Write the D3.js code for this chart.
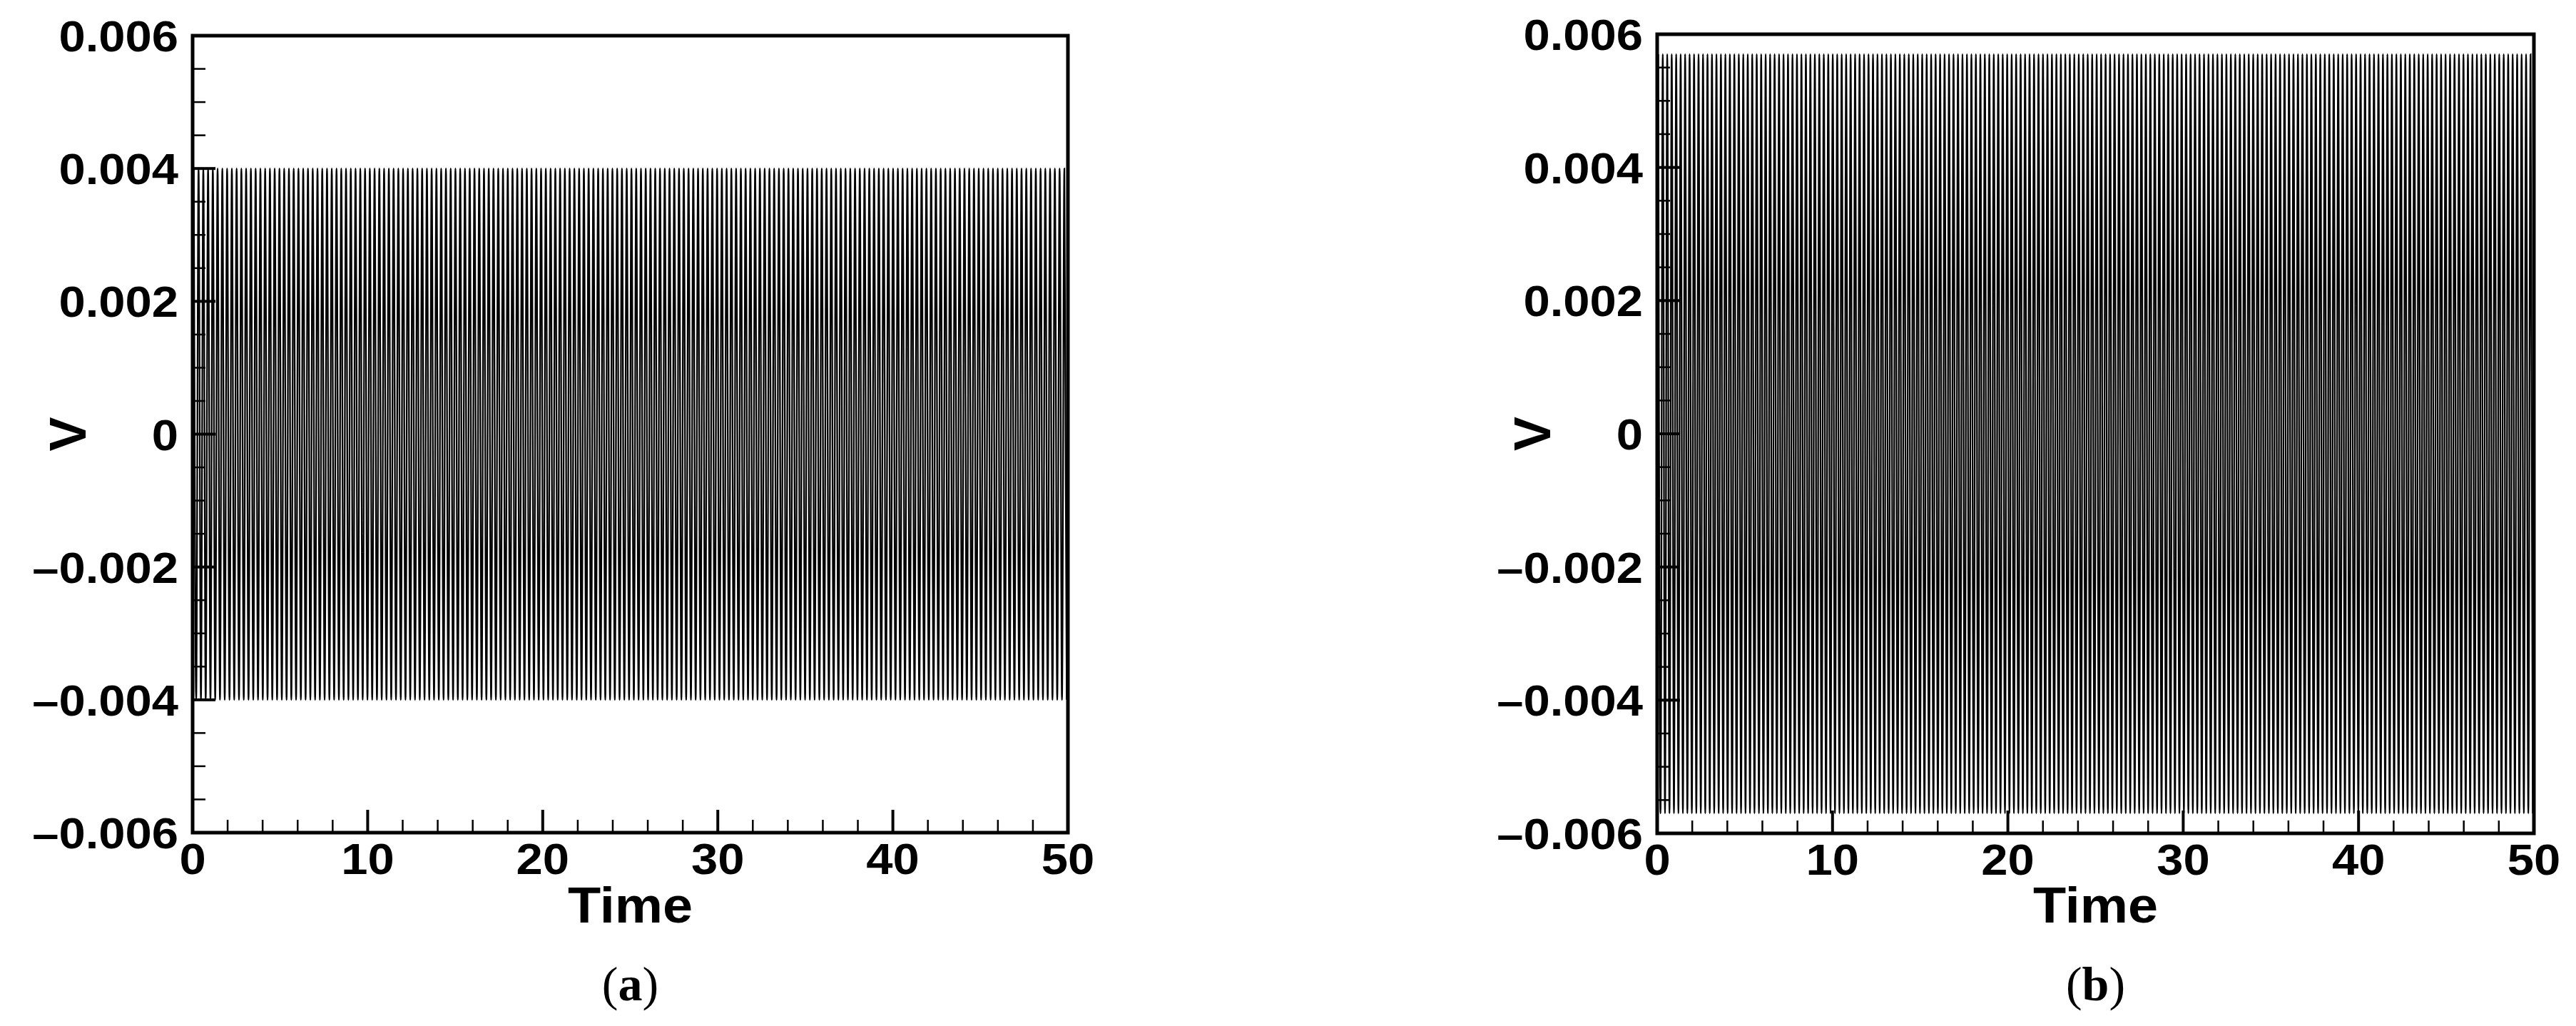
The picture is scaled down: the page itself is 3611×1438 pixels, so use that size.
<!DOCTYPE html>
<html>
<head>
<meta charset="utf-8">
<script src="https://cdn.jsdelivr.net/npm/d3@7"></script>
<style>
  html, body { margin: 0; padding: 0; background: #ffffff; }
  svg { display: block; }
</style>
</head>
<body>
<svg id="chart" width="3611" height="1438"></svg>
<script>
// ---------------- data ----------------
const yMajorTicks = [-0.006, -0.004, -0.002, 0, 0.002, 0.004, 0.006];
const yTickLabels = ["\u20130.006", "\u20130.004", "\u20130.002", "0", "0.002", "0.004", "0.006"];
const xMajorTicks = [0, 10, 20, 30, 40, 50];
const xTickLabels = ["0", "10", "20", "30", "40", "50"];
const xTitle = "Time";
const yTitle = "V";
const panelLetters = ["a", "b"];

// panel (a): per-cycle peak (max) and trough (min) values of V
const peaksA = [
  0.004, 0.004, 0.004, 0.004, 0.004, 0.004, 0.004, 0.004,
  0.004, 0.004, 0.004, 0.004, 0.004, 0.004, 0.004, 0.004,
  0.004, 0.004, 0.004, 0.004, 0.004, 0.004, 0.004, 0.004,
  0.004, 0.004, 0.004, 0.004, 0.004, 0.004, 0.004, 0.004,
  0.004, 0.004, 0.004, 0.004, 0.004, 0.004, 0.004, 0.004,
  0.004, 0.004, 0.004, 0.004, 0.004, 0.004, 0.004, 0.004,
  0.004, 0.004, 0.004, 0.004, 0.004, 0.004, 0.004, 0.004,
  0.004, 0.004, 0.004, 0.004, 0.004, 0.004, 0.004, 0.004,
  0.004, 0.004, 0.004, 0.004, 0.004, 0.004, 0.004, 0.004,
  0.004, 0.004, 0.004, 0.004, 0.004, 0.004, 0.004, 0.004,
  0.004, 0.004, 0.004, 0.004, 0.004, 0.004, 0.004, 0.004,
  0.004, 0.004, 0.004, 0.004, 0.004, 0.004, 0.004, 0.004,
  0.004, 0.004, 0.004, 0.004, 0.004, 0.004, 0.004, 0.004,
  0.004, 0.004, 0.004, 0.004, 0.004, 0.004, 0.004, 0.004,
  0.004, 0.004, 0.004, 0.004, 0.004, 0.004, 0.004, 0.004,
  0.004, 0.004, 0.004, 0.004, 0.004, 0.004, 0.004, 0.004,
  0.004, 0.004, 0.004, 0.004, 0.004, 0.004, 0.004, 0.004,
  0.004, 0.004, 0.004, 0.004, 0.004, 0.004, 0.004, 0.004,
  0.004, 0.004, 0.004, 0.004, 0.004, 0.004, 0.004, 0.004,
  0.004, 0.004, 0.004, 0.004, 0.004, 0.004, 0.004, 0.004,
  0.004, 0.004, 0.004, 0.004, 0.004, 0.004, 0.004, 0.004,
  0.004, 0.004, 0.004, 0.004, 0.004, 0.004, 0.004, 0.004,
  0.004, 0.004, 0.004, 0.004, 0.004, 0.004, 0.004, 0.004
];
const troughsA = [
  -0.004, -0.004, -0.004, -0.004, -0.004, -0.004, -0.004, -0.004,
  -0.004, -0.004, -0.004, -0.004, -0.004, -0.004, -0.004, -0.004,
  -0.004, -0.004, -0.004, -0.004, -0.004, -0.004, -0.004, -0.004,
  -0.004, -0.004, -0.004, -0.004, -0.004, -0.004, -0.004, -0.004,
  -0.004, -0.004, -0.004, -0.004, -0.004, -0.004, -0.004, -0.004,
  -0.004, -0.004, -0.004, -0.004, -0.004, -0.004, -0.004, -0.004,
  -0.004, -0.004, -0.004, -0.004, -0.004, -0.004, -0.004, -0.004,
  -0.004, -0.004, -0.004, -0.004, -0.004, -0.004, -0.004, -0.004,
  -0.004, -0.004, -0.004, -0.004, -0.004, -0.004, -0.004, -0.004,
  -0.004, -0.004, -0.004, -0.004, -0.004, -0.004, -0.004, -0.004,
  -0.004, -0.004, -0.004, -0.004, -0.004, -0.004, -0.004, -0.004,
  -0.004, -0.004, -0.004, -0.004, -0.004, -0.004, -0.004, -0.004,
  -0.004, -0.004, -0.004, -0.004, -0.004, -0.004, -0.004, -0.004,
  -0.004, -0.004, -0.004, -0.004, -0.004, -0.004, -0.004, -0.004,
  -0.004, -0.004, -0.004, -0.004, -0.004, -0.004, -0.004, -0.004,
  -0.004, -0.004, -0.004, -0.004, -0.004, -0.004, -0.004, -0.004,
  -0.004, -0.004, -0.004, -0.004, -0.004, -0.004, -0.004, -0.004,
  -0.004, -0.004, -0.004, -0.004, -0.004, -0.004, -0.004, -0.004,
  -0.004, -0.004, -0.004, -0.004, -0.004, -0.004, -0.004, -0.004,
  -0.004, -0.004, -0.004, -0.004, -0.004, -0.004, -0.004, -0.004,
  -0.004, -0.004, -0.004, -0.004, -0.004, -0.004, -0.004, -0.004,
  -0.004, -0.004, -0.004, -0.004, -0.004, -0.004, -0.004, -0.004,
  -0.004, -0.004, -0.004, -0.004, -0.004, -0.004, -0.004, -0.004
];

// panel (b): per-cycle peak (max) and trough (min) values of V
const peaksB = [
  0.0057, 0.0057, 0.0057, 0.0057, 0.0057, 0.0057, 0.0057, 0.0057,
  0.0057, 0.0057, 0.0057, 0.0057, 0.0057, 0.0057, 0.0057, 0.0057,
  0.0057, 0.0057, 0.0057, 0.0057, 0.0057, 0.0057, 0.0057, 0.0057,
  0.0057, 0.0057, 0.0057, 0.0057, 0.0057, 0.0057, 0.0057, 0.0057,
  0.0057, 0.0057, 0.0057, 0.0057, 0.0057, 0.0057, 0.0057, 0.0057,
  0.0057, 0.0057, 0.0057, 0.0057, 0.0057, 0.0057, 0.0057, 0.0057,
  0.0057, 0.0057, 0.0057, 0.0057, 0.0057, 0.0057, 0.0057, 0.0057,
  0.0057, 0.0057, 0.0057, 0.0057, 0.0057, 0.0057, 0.0057, 0.0057,
  0.0057, 0.0057, 0.0057, 0.0057, 0.0057, 0.0057, 0.0057, 0.0057,
  0.0057, 0.0057, 0.0057, 0.0057, 0.0057, 0.0057, 0.0057, 0.0057,
  0.0057, 0.0057, 0.0057, 0.0057, 0.0057, 0.0057, 0.0057, 0.0057,
  0.0057, 0.0057, 0.0057, 0.0057, 0.0057, 0.0057, 0.0057, 0.0057,
  0.0057, 0.0057, 0.0057, 0.0057, 0.0057, 0.0057, 0.0057, 0.0057,
  0.0057, 0.0057, 0.0057, 0.0057, 0.0057, 0.0057, 0.0057, 0.0057,
  0.0057, 0.0057, 0.0057, 0.0057, 0.0057, 0.0057, 0.0057, 0.0057,
  0.0057, 0.0057, 0.0057, 0.0057, 0.0057, 0.0057, 0.0057, 0.0057,
  0.0057, 0.0057, 0.0057, 0.0057, 0.0057, 0.0057, 0.0057, 0.0057,
  0.0057, 0.0057, 0.0057, 0.0057, 0.0057, 0.0057, 0.0057, 0.0057,
  0.0057, 0.0057, 0.0057, 0.0057, 0.0057, 0.0057, 0.0057, 0.0057,
  0.0057, 0.0057, 0.0057, 0.0057, 0.0057, 0.0057, 0.0057, 0.0057,
  0.0057, 0.0057, 0.0057, 0.0057, 0.0057, 0.0057, 0.0057, 0.0057,
  0.0057, 0.0057, 0.0057, 0.0057, 0.0057, 0.0057, 0.0057, 0.0057,
  0.0057, 0.0057, 0.0057, 0.0057, 0.0057, 0.0057, 0.0057, 0.0057,
  0.0057, 0.0057, 0.0057, 0.0057, 0.0057, 0.0057, 0.0057, 0.0057,
  0.0057, 0.0057, 0.0057, 0.0057
];
const troughsB = [
  -0.0057, -0.0057, -0.0057, -0.0057, -0.0057, -0.0057, -0.0057, -0.0057,
  -0.0057, -0.0057, -0.0057, -0.0057, -0.0057, -0.0057, -0.0057, -0.0057,
  -0.0057, -0.0057, -0.0057, -0.0057, -0.0057, -0.0057, -0.0057, -0.0057,
  -0.0057, -0.0057, -0.0057, -0.0057, -0.0057, -0.0057, -0.0057, -0.0057,
  -0.0057, -0.0057, -0.0057, -0.0057, -0.0057, -0.0057, -0.0057, -0.0057,
  -0.0057, -0.0057, -0.0057, -0.0057, -0.0057, -0.0057, -0.0057, -0.0057,
  -0.0057, -0.0057, -0.0057, -0.0057, -0.0057, -0.0057, -0.0057, -0.0057,
  -0.0057, -0.0057, -0.0057, -0.0057, -0.0057, -0.0057, -0.0057, -0.0057,
  -0.0057, -0.0057, -0.0057, -0.0057, -0.0057, -0.0057, -0.0057, -0.0057,
  -0.0057, -0.0057, -0.0057, -0.0057, -0.0057, -0.0057, -0.0057, -0.0057,
  -0.0057, -0.0057, -0.0057, -0.0057, -0.0057, -0.0057, -0.0057, -0.0057,
  -0.0057, -0.0057, -0.0057, -0.0057, -0.0057, -0.0057, -0.0057, -0.0057,
  -0.0057, -0.0057, -0.0057, -0.0057, -0.0057, -0.0057, -0.0057, -0.0057,
  -0.0057, -0.0057, -0.0057, -0.0057, -0.0057, -0.0057, -0.0057, -0.0057,
  -0.0057, -0.0057, -0.0057, -0.0057, -0.0057, -0.0057, -0.0057, -0.0057,
  -0.0057, -0.0057, -0.0057, -0.0057, -0.0057, -0.0057, -0.0057, -0.0057,
  -0.0057, -0.0057, -0.0057, -0.0057, -0.0057, -0.0057, -0.0057, -0.0057,
  -0.0057, -0.0057, -0.0057, -0.0057, -0.0057, -0.0057, -0.0057, -0.0057,
  -0.0057, -0.0057, -0.0057, -0.0057, -0.0057, -0.0057, -0.0057, -0.0057,
  -0.0057, -0.0057, -0.0057, -0.0057, -0.0057, -0.0057, -0.0057, -0.0057,
  -0.0057, -0.0057, -0.0057, -0.0057, -0.0057, -0.0057, -0.0057, -0.0057,
  -0.0057, -0.0057, -0.0057, -0.0057, -0.0057, -0.0057, -0.0057, -0.0057,
  -0.0057, -0.0057, -0.0057, -0.0057, -0.0057, -0.0057, -0.0057, -0.0057,
  -0.0057, -0.0057, -0.0057, -0.0057, -0.0057, -0.0057, -0.0057, -0.0057,
  -0.0057, -0.0057, -0.0057, -0.0057
];
const timeDomain = [0, 50];
const vDomain = [-0.006, 0.006];

// ---------------- layout ----------------
const panels = [
  { letter: panelLetters[0], peaks: peaksA, troughs: troughsA, left: 270, right: 1497, top: 50, bottom: 1167 },
  { letter: panelLetters[1], peaks: peaksB, troughs: troughsB, left: 2323, right: 3552, top: 48, bottom: 1168 }
];

const svg = d3.select("#chart");
svg.append("rect").attr("width", 3611).attr("height", 1438).attr("fill", "#fff");

const SANS = "'Liberation Sans', Arial, Helvetica, sans-serif";
const SERIF = "'Liberation Serif', 'Times New Roman', serif";
const SX = 1.08; // slight horizontal stretch of the original figure text

function sText(g, x, y, txt, size, anchor) {
  return g.append("text")
    .attr("transform", `translate(${x},${y}) scale(${SX},1)`)
    .attr("text-anchor", anchor)
    .attr("font-family", SANS)
    .attr("font-weight", "bold")
    .attr("font-size", size)
    .attr("fill", "#000")
    .text(txt);
}

panels.forEach((p, pi) => {
  const g = svg.append("g");
  const x = d3.scaleLinear().domain(timeDomain).range([p.left, p.right]);
  const y = d3.scaleLinear().domain(vDomain).range([p.bottom, p.top]);

  // interleave extrema into a series
  const series = [];
  p.peaks.forEach((v, i) => {
    series.push(v);
    if (i < p.troughs.length) series.push(p.troughs[i]);
  });
  const idx = d3.scaleLinear().domain([-0.5, series.length - 0.5]).range(timeDomain);

  const clipId = "clip" + pi;
  svg.append("clipPath").attr("id", clipId)
    .append("rect").attr("x", p.left).attr("y", p.top)
    .attr("width", p.right - p.left).attr("height", p.bottom - p.top);

  const line = d3.line()
    .x((d, i) => x(idx(i)))
    .y(d => y(d))
    .curve(d3.curveMonotoneX);

  g.append("path")
    .datum(series)
    .attr("clip-path", `url(#${clipId})`)
    .attr("fill", "none")
    .attr("stroke", "#000")
    .attr("stroke-width", 2.3)
    .attr("d", line);

  // minor ticks
  const yMinor = y.ticks(24).filter(t => !yMajorTicks.some(m => Math.abs(m - t) < 1e-9));
  const xMinor = x.ticks(25).filter(t => !xMajorTicks.includes(t));
  g.selectAll(".ymin").data(yMinor).enter().append("line")
    .attr("x1", p.left).attr("x2", p.left + 18)
    .attr("y1", d => y(d)).attr("y2", d => y(d))
    .attr("stroke", "#000").attr("stroke-width", 2.5);
  g.selectAll(".xmin").data(xMinor).enter().append("line")
    .attr("x1", d => x(d)).attr("x2", d => x(d))
    .attr("y1", p.bottom).attr("y2", p.bottom - 18)
    .attr("stroke", "#000").attr("stroke-width", 2.5);
  // major ticks
  g.selectAll(".ymaj").data(yMajorTicks).enter().append("line")
    .attr("x1", p.left).attr("x2", p.left + 32)
    .attr("y1", d => y(d)).attr("y2", d => y(d))
    .attr("stroke", "#000").attr("stroke-width", 4);
  g.selectAll(".xmaj").data(xMajorTicks).enter().append("line")
    .attr("x1", d => x(d)).attr("x2", d => x(d))
    .attr("y1", p.bottom).attr("y2", p.bottom - 32)
    .attr("stroke", "#000").attr("stroke-width", 4);

  // frame
  g.append("rect")
    .attr("x", p.left).attr("y", p.top)
    .attr("width", p.right - p.left).attr("height", p.bottom - p.top)
    .attr("fill", "none").attr("stroke", "#000").attr("stroke-width", 5);

  // tick labels
  yMajorTicks.forEach((t, i) => {
    sText(g, p.left - 20, y(t) + 22, yTickLabels[i], 62, "end");
  });
  xMajorTicks.forEach((t, i) => {
    sText(g, x(t), p.bottom + 58, xTickLabels[i], 62, "middle");
  });

  // axis titles
  const cx = (p.left + p.right) / 2;
  sText(g, cx, 1293, xTitle, 70, "middle");
  g.append("text")
    .attr("transform", `translate(${p.left - 176},${(p.top + p.bottom) / 2}) rotate(-90)`)
    .attr("text-anchor", "middle")
    .attr("dy", "0.36em")
    .attr("font-family", SANS).attr("font-weight", "bold").attr("font-size", 72)
    .attr("fill", "#000")
    .text(yTitle);

  // panel caption
  const cap = g.append("text")
    .attr("x", cx).attr("y", 1402)
    .attr("text-anchor", "middle")
    .attr("font-family", SERIF).attr("font-size", 68).attr("fill", "#000");
  cap.append("tspan").text("(");
  cap.append("tspan").attr("font-weight", "bold").text(p.letter);
  cap.append("tspan").text(")");
});
</script>
</body>
</html>
